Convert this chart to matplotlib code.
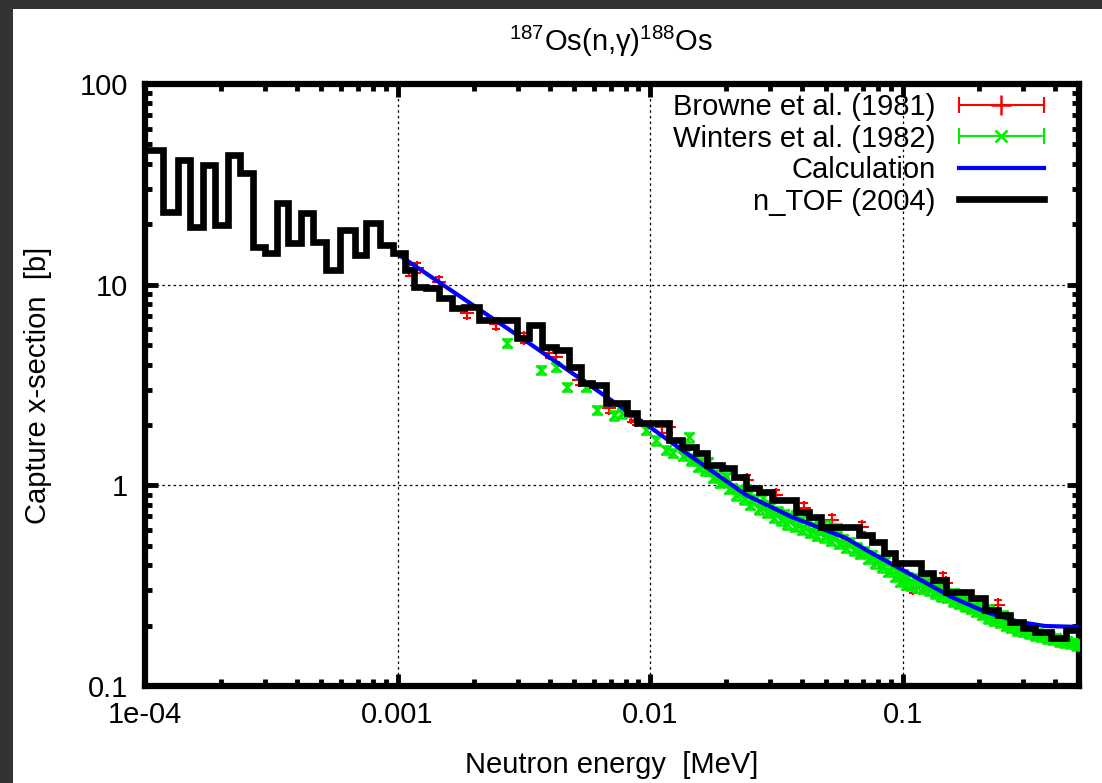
import matplotlib
matplotlib.use('Agg')
import matplotlib.pyplot as plt
from matplotlib.lines import Line2D
from matplotlib.legend_handler import HandlerBase
from matplotlib.patches import Rectangle
from matplotlib.ticker import FixedLocator, FixedFormatter, LogLocator, NullFormatter

plt.rcParams['font.family'] = ['Liberation Sans', 'DejaVu Sans']
plt.rcParams['mathtext.fontset'] = 'custom'
plt.rcParams['mathtext.rm'] = 'Liberation Sans'
plt.rcParams['mathtext.it'] = 'Liberation Sans:italic'
plt.rcParams['mathtext.bf'] = 'Liberation Sans:bold'

# ---------------- data ----------------
title = r'$^{187}$Os(n,γ)$^{188}$Os'
xlabel = 'Neutron energy  [MeV]'
ylabel = 'Capture x-section  [b]'
legend_labels = ['Browne et al. (1981)', 'Winters et al. (1982)', 'Calculation', 'n_TOF (2004)']

xticks = [1e-4, 1e-3, 1e-2, 1e-1]
xticklabels = ['1e-04', '0.001', '0.01', '0.1']
yticks = [0.1, 1, 10, 100]
yticklabels = ['0.1', '1', '10', '100']

ntof_edges = [1.00e-4, 1.18e-4, 1.35e-4, 1.51e-4, 1.70e-4, 1.89e-4, 2.13e-4, 2.37e-4,
              2.68e-4, 2.98e-4, 3.32e-4, 3.69e-4, 4.16e-4, 4.63e-4, 5.23e-4, 5.90e-4,
              6.76e-4, 7.52e-4, 8.49e-4, 9.58e-4, 1.066e-3, 1.167e-3, 1.302e-3, 1.466e-3,
              1.650e-3, 1.840e-3, 2.110e-3, 2.981e-3, 3.325e-3, 3.742e-3, 4.251e-3,
              4.784e-3, 5.339e-3, 5.899e-3, 6.701e-3, 8.11e-3, 8.88e-3, 9.73e-3,
              1.189e-2, 1.338e-2, 1.520e-2, 1.680e-2, 1.926e-2, 2.148e-2, 2.395e-2,
              2.696e-2, 3.035e-2, 3.777e-2, 4.252e-2, 4.742e-2, 6.70e-2, 7.54e-2,
              8.41e-2, 9.38e-2, 0.1189, 0.1326, 0.1493, 0.1874, 0.2129, 0.2395,
              0.2673, 0.3008, 0.3356, 0.3881, 0.4448, 0.50]
ntof_xs = [46.9, 23.0, 41.8, 19.4, 39.5, 19.8, 44.3, 36.0, 15.4, 14.4, 25.5, 16.1,
           22.8, 16.3, 11.8, 18.7, 14.1, 20.3, 15.8, 14.4, 11.8, 9.74, 9.63, 8.58,
           7.65, 7.74, 6.67, 5.43, 6.30, 4.89, 4.73, 3.89, 3.24, 3.16, 2.57, 2.29,
           2.05, 2.05, 1.68, 1.55, 1.45, 1.26, 1.22, 1.10, 0.97, 0.927, 0.846, 0.737,
           0.696, 0.620, 0.566, 0.522, 0.460, 0.411, 0.366, 0.338, 0.294, 0.275,
           0.239, 0.226, 0.209, 0.195, 0.186, 0.174, 0.190]

calc_e = [0.001, 0.00315, 0.01, 0.0139, 0.024, 0.0364, 0.0595, 0.0754, 0.1,
          0.156, 0.213, 0.287, 0.367, 0.5]
calc_xs = [14.2, 5.35, 1.95, 1.45, 0.896, 0.696, 0.547, 0.460, 0.379,
           0.278, 0.234, 0.209, 0.199, 0.197]

browne_e = [1.115e-3, 1.20e-3, 1.466e-3, 1.891e-3, 2.46e-3, 3.18e-3, 3.99e-3, 4.25e-3,
            5.24e-3, 6.89e-3, 8.41e-3, 8.80e-3, 1.115e-2, 1.189e-2, 2.417e-2, 3.15e-2,
            4.06e-2, 5.24e-2, 6.89e-2, 0.1105, 0.1452, 0.149, 0.2395]
browne_xs = [11.8, 12.1, 10.3, 7.23, 6.4, 5.43, 4.57, 4.36, 3.35, 2.43, 2.19, 2.12,
             1.95, 1.95, 1.06, 0.896, 0.772, 0.672, 0.620, 0.308, 0.346, 0.326, 0.254]
browne_relerr = 0.06

winters_e = [2.72e-3, 3.71e-3, 4.25e-3, 4.70e-3, 5.58e-3, 6.17e-3, 7.21e-3, 7.75e-3,
             9.64e-3, 1.056e-2, 1.157e-2, 1.23e-2, 1.426e-2,
             0.0135, 0.0145, 0.0155, 0.0165, 0.0178, 0.019, 0.0205, 0.022, 0.0235,
             0.025, 0.027, 0.029, 0.031, 0.033, 0.035, 0.0375, 0.04, 0.043, 0.046,
             0.049, 0.052, 0.056, 0.06, 0.064, 0.068, 0.073, 0.078, 0.083, 0.088,
             0.093, 0.098, 0.103, 0.108, 0.114, 0.12, 0.127, 0.134, 0.142, 0.15,
             0.158, 0.167, 0.176, 0.186, 0.196, 0.207, 0.218, 0.23, 0.243, 0.256,
             0.27, 0.285, 0.3, 0.317, 0.335, 0.353, 0.373, 0.393, 0.415, 0.438,
             0.462, 0.488,
             0.014, 0.015, 0.016, 0.0172, 0.0184, 0.0197, 0.0212, 0.0227, 0.0242,
             0.026, 0.028, 0.030, 0.032, 0.034, 0.036, 0.0388, 0.0415, 0.0445,
             0.0475, 0.0505, 0.054, 0.058, 0.062, 0.066, 0.0705, 0.0755, 0.0805,
             0.0855, 0.0905, 0.0955, 0.1005, 0.1055, 0.111, 0.117, 0.1235, 0.1305,
             0.138, 0.146, 0.154, 0.1625, 0.1715, 0.181, 0.191, 0.2015, 0.2125,
             0.224, 0.2365, 0.2495, 0.263, 0.2775, 0.2925, 0.3085, 0.326, 0.344,
             0.363, 0.383, 0.404, 0.4265, 0.45, 0.475, 0.495,
             0.017, 0.020, 0.024, 0.028, 0.038, 0.042, 0.046, 0.050, 0.055,
             0.12, 0.13, 0.14, 0.16, 0.18, 0.20, 0.22, 0.25]
winters_xs = [5.12, 3.76, 3.89, 3.09, 3.09, 2.38, 2.24, 2.29,
              1.89, 1.68, 1.50, 1.45, 1.74,
              1.40, 1.33, 1.24, 1.19, 1.09, 1.03, 0.96, 0.89, 0.85,
              0.80, 0.76, 0.73, 0.69, 0.67, 0.64, 0.62, 0.60, 0.58, 0.56,
              0.55, 0.53, 0.51, 0.49, 0.475, 0.455, 0.43, 0.41, 0.39, 0.37,
              0.35, 0.33, 0.32, 0.315, 0.31, 0.305, 0.30, 0.29, 0.28, 0.275,
              0.265, 0.257, 0.25, 0.242, 0.234, 0.226, 0.218, 0.212, 0.206, 0.2,
              0.195, 0.19, 0.186, 0.183, 0.179, 0.176, 0.173, 0.17, 0.167, 0.165,
              0.163, 0.16,
              1.47, 1.36, 1.30, 1.18, 1.13, 1.04, 0.97, 0.95, 0.88,
              0.85, 0.80, 0.78, 0.74, 0.72, 0.69, 0.66, 0.64, 0.62,
              0.60, 0.58, 0.56, 0.54, 0.52, 0.49, 0.47, 0.45, 0.43,
              0.42, 0.39, 0.37, 0.36, 0.35, 0.345, 0.33, 0.32, 0.315,
              0.30, 0.29, 0.285, 0.272, 0.265, 0.255, 0.248, 0.238, 0.232,
              0.224, 0.216, 0.211, 0.205, 0.2, 0.196, 0.19, 0.188, 0.183,
              0.18, 0.176, 0.173, 0.17, 0.167, 0.164, 0.161,
              1.30, 1.10, 0.96, 0.86, 0.71, 0.69, 0.66, 0.63, 0.61,
              0.35, 0.335, 0.32, 0.29, 0.27, 0.255, 0.24, 0.225]
winters_relerr = 0.05

RED = '#ff0000'
GREEN = '#00ee00'
BLUE = '#0000ff'


class ErrBarHandler(HandlerBase):
    def create_artists(self, legend, orig_handle, xdescent, ydescent, width,
                       height, fontsize, trans):
        c = orig_handle.get_color()
        m = orig_handle.get_marker()
        y = height / 2 - ydescent
        x0 = -xdescent
        x1 = x0 + width
        ln = Line2D([x0, x1], [y, y], color=c, lw=1.5)
        caps = Line2D([x0, x1], [y, y], ls='none', marker='|', ms=12, mew=1.5, color=c)
        mk = Line2D([(x0 + x1) / 2], [y], ls='none', marker=m,
                    ms=14 if m == '+' else 8, mew=1.8, color=c)
        for a in (ln, caps, mk):
            a.set_transform(trans)
        return [ln, caps, mk]


W, H = 1102, 783
fig = plt.figure(figsize=(W / 100, H / 100), dpi=100)
fig.patch.set_facecolor('#333333')
fig.patches.append(Rectangle((13 / W, 0), 1 - 13 / W, 1 - 9 / H, transform=fig.transFigure,
                             facecolor='white', edgecolor='none', zorder=-10))

ax = fig.add_axes([145 / W, 1 - 686 / H, (1079 - 145) / W, (686 - 84) / H])
ax.set_xscale('log')
ax.set_yscale('log')
ax.set_xlim(1e-4, 0.5)
ax.set_ylim(0.1, 100)

ax.errorbar(browne_e, browne_xs, yerr=[v * browne_relerr for v in browne_xs], fmt='+',
            color=RED, ms=10, mew=1.5, elinewidth=1.5, capsize=3, capthick=1.5, zorder=2)
ax.errorbar(winters_e, winters_xs, yerr=[v * winters_relerr for v in winters_xs], fmt='x',
            color=GREEN, ms=7.5, mew=1.8, elinewidth=1.4, capsize=3.5, capthick=1.4, zorder=3)
ax.plot(calc_e, calc_xs, color=BLUE, lw=3.0, zorder=4)
st = ax.stairs(ntof_xs, ntof_edges, color='black', lw=4.8, baseline=None, zorder=5)
st.set_joinstyle('miter')

ax.xaxis.set_major_locator(FixedLocator(xticks))
ax.xaxis.set_major_formatter(FixedFormatter(xticklabels))
ax.yaxis.set_major_locator(FixedLocator(yticks))
ax.yaxis.set_major_formatter(FixedFormatter(yticklabels))
ax.xaxis.set_minor_locator(LogLocator(base=10, subs=[2, 3, 4, 5, 6, 7, 8, 9], numticks=20))
ax.yaxis.set_minor_locator(LogLocator(base=10, subs=[2, 3, 4, 5, 6, 7, 8, 9], numticks=20))
ax.xaxis.set_minor_formatter(NullFormatter())
ax.yaxis.set_minor_formatter(NullFormatter())

ax.tick_params(which='both', direction='in', top=True, right=True, color='black', width=3.5)
ax.tick_params(which='major', length=9)
ax.tick_params(which='minor', length=5)
ax.tick_params(axis='x', which='major', labelsize=21, pad=11)
ax.tick_params(axis='y', which='major', labelsize=21, pad=12)

ax.grid(True, which='major', color='black', linestyle=(0, (2, 2.5)), linewidth=0.9)
ax.set_axisbelow(True)
for sp in ax.spines.values():
    sp.set_linewidth(4.5)
    sp.set_color('black')

handles = [Line2D([], [], color=RED, marker='+'),
           Line2D([], [], color=GREEN, marker='x'),
           Line2D([], [], color=BLUE, lw=3.0),
           Line2D([], [], color='black', lw=4.8)]
leg = ax.legend(handles, legend_labels,
                handler_map={handles[0]: ErrBarHandler(), handles[1]: ErrBarHandler()},
                loc='upper right', bbox_to_anchor=(0.962, 0.985), frameon=False,
                markerfirst=False, fontsize=21, handlelength=2.9, handletextpad=0.8,
                labelspacing=0.12, borderpad=0, borderaxespad=0)

fig.text(611 / W, 1 - 51 / H, title, ha='center', va='baseline', fontsize=21)
fig.text(612 / W, 1 - 773 / H, xlabel, ha='center', va='baseline', fontsize=21)
fig.text(38 / W, 1 - 385 / H, ylabel, ha='center', va='center', rotation=90, fontsize=21)

fig.savefig('out.png', dpi=100, facecolor=fig.get_facecolor())
